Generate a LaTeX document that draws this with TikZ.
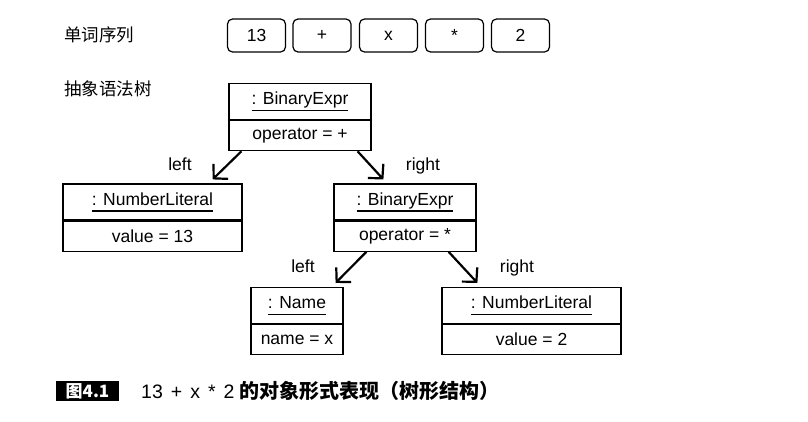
\documentclass[tikz,border=0pt]{standalone}
\usepackage{fontspec}
\setmainfont{Liberation Sans}
\newfontfamily\cjk{Noto Sans CJK SC}
\usetikzlibrary{arrows.meta}
\newcommand{\objname}[1]{\setbox0\hbox{#1}\rlap{\rule[-6.5pt]{\wd0}{1.2pt}}\box0}
\tikzset{
  base/.style={font=\fontsize{17.5}{20}\selectfont},
  objtop/.style={base, draw, line width=1.2pt, minimum height=36pt, inner sep=0pt},
  objbot/.style={base, draw, line width=1.2pt, minimum height=30pt, inner sep=0pt, anchor=north},
  token/.style={base, draw, line width=1.2pt, rounded corners=5pt, minimum width=58pt, minimum height=33pt, inner sep=0pt},
  rolelabel/.style={base, anchor=base},
  cnlabel/.style={font=\cjk\fontsize{17.5}{20}\selectfont, anchor=west, inner sep=0pt},
  link/.style={line width=2.2pt, -{Straight Barb[length=10pt,width=21pt,line width=2.2pt]}},
}
\begin{document}
\begin{tikzpicture}[x={(1pt,0pt)}, y={(0pt,-1pt)}]
\useasboundingbox (0,0) rectangle (808,421);

% labels
\node[cnlabel] (lbl1) at (64,35) {单词序列};
\node[cnlabel] (lbl2) at (64,89) {抽象语法树};

% tokens
\node[token] (k1) at (256.5,35.5) {13};
\node[token] (k2) at (322,35.5) {+};
\node[token] (k3) at (388.5,35.5) {x};
\node[token] (k4) at (454.5,35.5) {\raisebox{-3.5pt}{*}};
\node[token] (k5) at (520.5,35.5) {2};

% top BinaryExpr
\node[objtop, minimum width=142pt] (t1) at (300,101.5) {\objname{: BinaryExpr}};
\node[objbot, minimum width=142pt] (t2) at (t1.south) {operator = +};

% left NumberLiteral
\node[objtop, minimum width=179pt] (a1) at (152.5,202) {\objname{: NumberLiteral}};
\node[objbot, minimum width=179pt] (a2) at (a1.south) {value = 13};

% right BinaryExpr
\node[objtop, minimum width=142pt] (b1) at (405,202) {\objname{: BinaryExpr}};
\node[objbot, minimum width=142pt] (b2) at (b1.south) {operator = *};

% Name
\node[objtop, minimum width=92pt] (c1) at (297,305.5) {\objname{: Name}};
\node[objbot, minimum width=92pt] (c2) at (c1.south) {name = x};

% right NumberLiteral
\node[objtop, minimum width=179pt] (d1) at (531.5,305.5) {\objname{: NumberLiteral}};
\node[objbot, minimum width=179pt] (d2) at (d1.south) {value = 2};

% connectors
\draw[link] ([xshift=13pt]t2.south west) -- ([xshift=-30pt,yshift=4pt]a1.north east);
\draw[link] ([xshift=-14pt]t2.south east) -- ([xshift=50pt,yshift=4pt]b1.north west);
\draw[link] ([xshift=33pt]b2.south west) -- ([xshift=-8pt,yshift=4pt]c1.north east);
\draw[link] ([xshift=-28pt]b2.south east) -- ([xshift=36pt,yshift=4pt]d1.north west);

% role labels
\node[rolelabel] (r1) at (180,170) {left};
\node[rolelabel] (r2) at (423,170) {right};
\node[rolelabel] (r3) at (303,272) {left};
\node[rolelabel] (r4) at (517,272) {right};

% caption
\node[fill=black, minimum width=63pt, minimum height=20pt, inner sep=0pt,
      text=white, font=\cjk\bfseries\fontsize{17}{20}\selectfont] (cap1) at (87.5,391) {图4.1};
\node[anchor=west, inner sep=0pt] (cap2) at (141,391)
  {\fontsize{19.5}{22}\selectfont 13\hspace{8pt}+\hspace{8pt}x\hspace{8pt}*\hspace{8pt}2\hspace{5pt}{\cjk\bfseries\fontsize{20}{22}\selectfont 的对象形式表现（树形结构）}};
\end{tikzpicture}
\end{document}
